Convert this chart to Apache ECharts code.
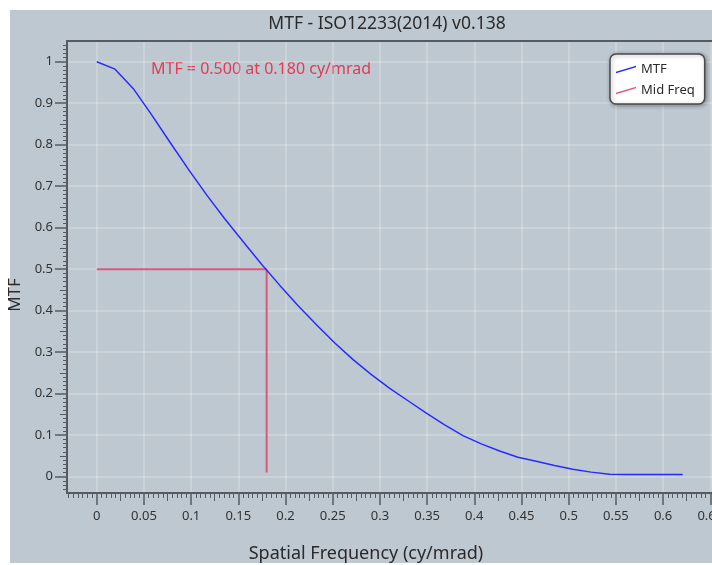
<!DOCTYPE html>
<html>
<head>
<meta charset="utf-8">
<script src="https://cdn.jsdelivr.net/npm/echarts@6/dist/echarts.min.js"></script>
<style>
  html, body { margin: 0; padding: 0; background: #fff; }
  #chart { width: 712px; height: 565px; }
</style>
</head>
<body>
<div id="chart"></div>
<script>
// spatial frequency samples (cy/mrad) and MTF
const freq = [0, 0.0194, 0.0388, 0.0582, 0.0776, 0.097, 0.1164, 0.1358, 0.1552, 0.1746,
  0.194, 0.2134, 0.2328, 0.2522, 0.2716, 0.291, 0.3104, 0.3298, 0.3492, 0.3686,
  0.388, 0.4074, 0.4268, 0.4462, 0.4656, 0.485, 0.5044, 0.5238, 0.5432, 0.5626,
  0.582, 0.6014, 0.6208];
const mtf = [1.000, 0.982, 0.935, 0.872, 0.806, 0.741, 0.679, 0.621, 0.566, 0.512,
  0.461, 0.412, 0.366, 0.322, 0.282, 0.246, 0.213, 0.183, 0.153, 0.125,
  0.099, 0.079, 0.062, 0.047, 0.037, 0.027, 0.018, 0.011, 0.006, 0.005,
  0.005, 0.005, 0.005];
// mid frequency marker (MTF50)
const midX = [0, 0.18, 0.18];
const midY = [0.5, 0.5, 0.01];
const xTicks = [0, 0.05, 0.1, 0.15, 0.2, 0.25, 0.3, 0.35, 0.4, 0.45, 0.5, 0.55, 0.6, 0.65];
const yTicks = [0, 0.1, 0.2, 0.3, 0.4, 0.5, 0.6, 0.7, 0.8, 0.9, 1];

const X_MIN = -0.0315, X_MAX = 0.6603;
const Y_MIN = -0.0393, Y_MAX = 1.0499;
const AXIS_COLOR = '#555b60';
const GRID_COLOR = 'rgba(255,255,255,0.28)';
const FONT = 'Noto Sans';

// minor / medium ticks
const xMinor = [], xMid = [], yMinor = [], yMid = [];
for (let i = -6; i <= 132; i++) {
  const v = +(i * 0.005).toFixed(3);
  if (i % 10 === 5) xMid.push(v); else if (i % 10 !== 0) xMinor.push(v);
}
for (let i = -3; i <= 104; i++) {
  const v = +(i * 0.01).toFixed(2);
  if (i % 10 === 5) yMid.push(v); else if (i % 10 !== 0) yMinor.push(v);
}

const fmt = v => String(+(+v).toFixed(2));

function tickAxis(values, len, extra) {
  return Object.assign({
    type: 'value',
    axisLine: { show: false, onZero: false },
    axisTick: { show: true, length: len, customValues: values, lineStyle: { color: AXIS_COLOR, width: 1 } },
    axisLabel: { show: false },
    splitLine: { show: false }
  }, extra);
}

const chartDom = document.getElementById('chart');
const myChart = echarts.init(chartDom, null, { renderer: 'canvas' });

const option = {
  animation: false,
  backgroundColor: '#ffffff',
  textStyle: { fontFamily: FONT },
  graphic: [
    {
      type: 'rect', z: -10, silent: true,
      shape: { x: 10, y: 10, width: 702, height: 553 },
      style: { fill: '#bec8d0' }
    },
    {
      type: 'text', x: 387, y: 24, silent: true,
      style: { text: 'MTF - ISO12233(2014) v0.138', align: 'center', verticalAlign: 'middle',
        fill: '#2a2a2a', font: '17.5px "Noto Sans"' }
    },
    {
      type: 'text', x: 151, y: 69, silent: true,
      style: { text: 'MTF = 0.500 at 0.180 cy/mrad', align: 'left', verticalAlign: 'middle',
        fill: '#e23a57', font: '16px "Noto Sans"' }
    }
  ],
  legend: {
    orient: 'vertical',
    left: 610,
    top: 54,
    padding: [9, 10, 7, 6],
    itemGap: 8,
    itemWidth: 20,
    itemHeight: 7.5,
    icon: 'path://M0,6 L20,0 L20,1.5 L0,7.5 Z',
    itemStyle: { borderWidth: 0 },
    textStyle: { fontSize: 13, color: '#2a2a2a', fontFamily: FONT },
    backgroundColor: '#ffffff',
    borderColor: '#4a4a4a',
    borderWidth: 1.5,
    borderRadius: 6,
    shadowBlur: 4,
    shadowColor: 'rgba(0,0,0,0.35)',
    shadowOffsetX: 1,
    shadowOffsetY: 1,
    data: ['MTF', 'Mid Freq']
  },
  grid: {
    left: 67,
    top: 41,
    right: -8,
    bottom: 72,
    containLabel: false,
    outerBoundsMode: 'none'
  },
  xAxis: [
    {
      type: 'value',
      min: X_MIN,
      max: X_MAX,
      position: 'bottom',
      name: 'Spatial Frequency (cy/mrad)',
      nameLocation: 'middle',
      nameGap: 52,
      nameTextStyle: { fontSize: 18, color: '#2a2a2a', padding: [0, 55, 0, 0] },
      axisLine: { show: true, onZero: false, lineStyle: { color: AXIS_COLOR, width: 2 } },
      axisTick: { show: true, length: 12, customValues: xTicks, lineStyle: { color: AXIS_COLOR, width: 1.5 } },
      axisLabel: { customValues: xTicks, margin: 17, fontSize: 13, color: '#333', formatter: fmt },
      splitLine: { show: true, lineStyle: { color: GRID_COLOR, width: 1.5 } }
    },
    tickAxis(xMinor, 5, { min: X_MIN, max: X_MAX, position: 'bottom' }),
    tickAxis(xMid, 8, { min: X_MIN, max: X_MAX, position: 'bottom' }),
    // top frame line of the plot area
    {
      type: 'value', min: X_MIN, max: X_MAX, position: 'top',
      axisLine: { show: true, onZero: false, lineStyle: { color: AXIS_COLOR, width: 2 } },
      axisTick: { show: false }, axisLabel: { show: false }, splitLine: { show: false }
    }
  ],
  yAxis: [
    {
      type: 'value',
      min: Y_MIN,
      max: Y_MAX,
      position: 'left',
      name: 'MTF',
      nameLocation: 'middle',
      nameGap: 32,
      nameTextStyle: { fontSize: 17, color: '#2a2a2a', padding: [0, 56, 0, 0] },
      axisLine: { show: true, onZero: false, lineStyle: { color: AXIS_COLOR, width: 2 } },
      axisTick: { show: true, length: 12, customValues: yTicks, lineStyle: { color: AXIS_COLOR, width: 1.5 } },
      axisLabel: { customValues: yTicks, margin: 14, fontSize: 13, color: '#333', formatter: fmt },
      splitLine: { show: true, lineStyle: { color: GRID_COLOR, width: 1.5 } }
    },
    tickAxis(yMinor, 4, { min: Y_MIN, max: Y_MAX, position: 'left' }),
    tickAxis(yMid, 7, { min: Y_MIN, max: Y_MAX, position: 'left' })
  ],
  series: [
    {
      name: 'MTF',
      type: 'line',
      xAxisIndex: 0,
      yAxisIndex: 0,
      showSymbol: false,
      symbol: 'none',
      data: freq.map((f, i) => [f, mtf[i]]),
      itemStyle: { color: '#2a2aff' },
      lineStyle: { color: '#2a2aff', width: 1.5 },
      z: 3
    },
    {
      name: 'Mid Freq',
      type: 'line',
      xAxisIndex: 0,
      yAxisIndex: 0,
      showSymbol: false,
      symbol: 'none',
      data: midX.map((x, i) => [x, midY[i]]),
      itemStyle: { color: '#dc5878' },
      lineStyle: { color: '#dc5878', width: 2 },
      z: 2
    }
  ]
};
option && myChart.setOption(option);
</script>
</body>
</html>
